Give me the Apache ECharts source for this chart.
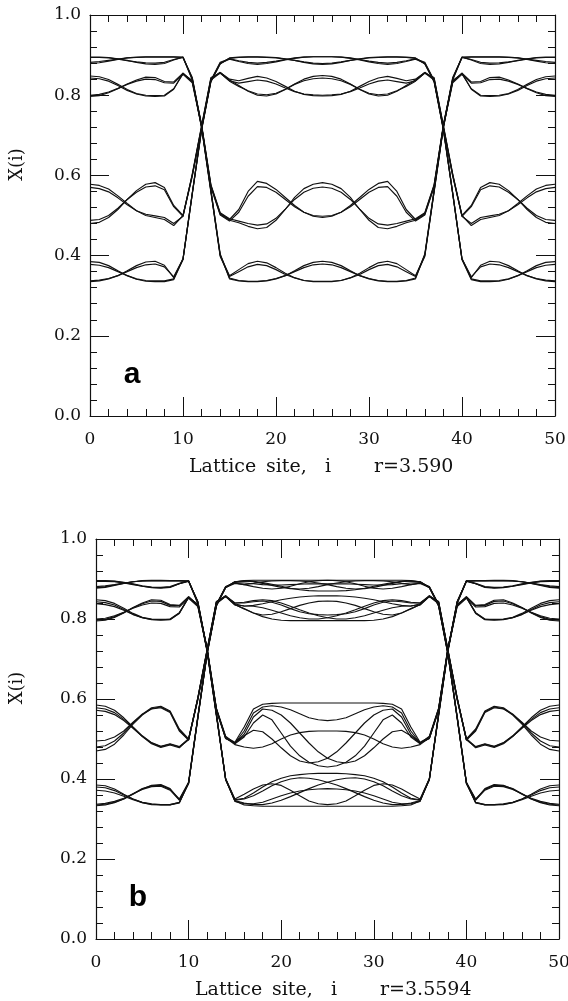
<!DOCTYPE html>
<html>
<head>
<meta charset="utf-8">
<script src="https://cdn.jsdelivr.net/npm/echarts@6/dist/echarts.min.js"></script>
<style>
  html, body { margin: 0; padding: 0; background: #fff; }
  #chart { width: 568px; height: 1001px; }
</style>
</head>
<body>
<div id="chart"></div>
<script>
// Snapshots X(i) of the coupled logistic lattice, i = 0..50.
// Each array: left domain (0-10) | wall (11-13) | centre domain (14-36) | wall (37-39) | right domain (40-50)

// ---- panel a, r = 3.590 ----
const a01 = [.895,.895,.894,.891,.887,.882,.878,.877,.879,.888,.895, .840,.720,.560,
  .400,.350,.365,.380,.386,.382,.370,.356,.345,.338,.335,.335, .335,.338,.345,.356,.370,.382,.386,.380,.365,.350,.400,
  .560,.720,.840, .895,.888,.879,.877,.878,.882,.887,.891,.894,.895,.895];
const a02 = [.879,.881,.885,.889,.893,.895,.896,.896,.896,.896,.895, .842,.722,.562,
  .402,.342,.337,.335,.335,.337,.342,.350,.362,.375,.383,.386, .383,.375,.362,.350,.342,.337,.335,.335,.337,.342,.402,
  .562,.722,.842, .895,.896,.896,.896,.896,.895,.893,.889,.885,.881,.879];
const a03 = [.894,.894,.893,.890,.886,.883,.881,.880,.882,.889,.894, .838,.718,.558,
  .398,.348,.360,.372,.378,.375,.365,.353,.344,.338,.336,.336, .336,.338,.344,.353,.365,.375,.378,.372,.360,.348,.398,
  .558,.718,.838, .894,.889,.882,.880,.881,.883,.886,.890,.893,.894,.894];
const a04 = [.882,.884,.887,.890,.893,.894,.895,.895,.895,.895,.894, .844,.724,.564,
  .404,.344,.338,.336,.336,.338,.343,.350,.360,.370,.377,.379, .377,.370,.360,.350,.343,.338,.336,.336,.338,.344,.404,
  .564,.724,.844, .894,.895,.895,.895,.895,.894,.893,.890,.887,.884,.882];
const a05 = [.385,.383,.375,.362,.350,.341,.336,.335,.335,.340,.390, .555,.715,.835,
  .880,.890,.884,.879,.877,.879,.883,.888,.892,.895,.896,.896, .896,.895,.892,.888,.883,.879,.877,.879,.884,.890,.880,
  .835,.715,.555, .390,.340,.335,.335,.336,.341,.350,.362,.375,.383,.385];
const a06 = [.335,.337,.342,.350,.362,.375,.384,.386,.376,.345,.390, .553,.713,.833,
  .878,.893,.895,.896,.896,.895,.894,.891,.887,.882,.878,.877, .878,.882,.887,.891,.894,.895,.896,.896,.895,.893,.878,
  .833,.713,.553, .390,.345,.376,.386,.384,.375,.362,.350,.342,.337,.335];
const a07 = [.378,.376,.370,.360,.350,.342,.338,.337,.337,.342,.392, .557,.717,.837,
  .882,.891,.886,.882,.880,.882,.885,.889,.893,.895,.896,.896, .896,.895,.893,.889,.885,.882,.880,.882,.886,.891,.882,
  .837,.717,.557, .392,.342,.337,.337,.338,.342,.350,.360,.370,.376,.378];
const a08 = [.337,.339,.343,.350,.360,.370,.377,.379,.372,.347,.392, .556,.716,.836,
  .879,.892,.894,.895,.895,.894,.893,.890,.887,.883,.880,.879, .880,.883,.887,.890,.893,.894,.895,.895,.894,.892,.879,
  .836,.716,.556, .392,.347,.372,.379,.377,.370,.360,.350,.343,.339,.337];
const a09 = [.843,.841,.835,.824,.812,.803,.798,.797,.798,.815,.855, .835,.725,.575,
  .505,.490,.515,.560,.585,.580,.565,.545,.525,.508,.498,.495, .498,.508,.525,.545,.565,.580,.585,.560,.515,.490,.505,
  .575,.725,.835, .855,.815,.798,.797,.798,.803,.812,.824,.835,.841,.843];
const a10 = [.797,.799,.806,.816,.828,.838,.845,.844,.834,.833,.855, .833,.723,.573,
  .503,.488,.482,.473,.467,.470,.488,.515,.545,.567,.578,.582, .578,.567,.545,.515,.488,.470,.467,.473,.482,.488,.503,
  .573,.723,.833, .855,.833,.834,.844,.845,.838,.828,.816,.806,.799,.797];
const a11 = [.848,.846,.839,.827,.814,.804,.800,.799,.800,.816,.853, .837,.727,.577,
  .507,.492,.486,.480,.476,.479,.493,.516,.540,.558,.568,.571, .568,.558,.540,.516,.493,.479,.476,.480,.486,.492,.507,
  .577,.727,.837, .853,.816,.800,.799,.800,.804,.814,.827,.839,.846,.848];
const a12 = [.800,.802,.808,.817,.827,.835,.840,.839,.831,.830,.852, .831,.721,.571,
  .501,.486,.508,.548,.572,.570,.558,.540,.522,.508,.500,.498, .500,.508,.522,.540,.558,.570,.572,.548,.508,.486,.501,
  .571,.721,.831, .852,.830,.831,.839,.840,.835,.827,.817,.808,.802,.800];
const a13 = [.578,.575,.566,.549,.530,.512,.500,.495,.490,.475,.500, .600,.720,.840,
  .857,.838,.824,.810,.800,.798,.803,.814,.828,.840,.847,.849, .847,.840,.828,.814,.803,.798,.800,.810,.824,.838,.857,
  .840,.720,.600, .500,.475,.490,.495,.500,.512,.530,.549,.566,.575,.578];
const a14 = [.480,.483,.495,.515,.540,.562,.578,.582,.570,.525,.500, .602,.722,.842,
  .857,.840,.836,.842,.847,.843,.834,.822,.810,.802,.799,.798, .799,.802,.810,.822,.834,.843,.847,.842,.836,.840,.857,
  .842,.722,.602, .500,.525,.570,.582,.578,.562,.540,.515,.495,.483,.480];
const a15 = [.570,.567,.559,.544,.527,.512,.503,.499,.495,.480,.498, .598,.718,.838,
  .855,.836,.830,.834,.838,.835,.828,.818,.809,.803,.801,.800, .801,.803,.809,.818,.828,.835,.838,.834,.830,.836,.855,
  .838,.718,.598, .498,.480,.495,.499,.503,.512,.527,.544,.559,.567,.570];
const a16 = [.488,.490,.500,.518,.540,.558,.571,.574,.564,.522,.498, .604,.724,.844,
  .855,.835,.822,.811,.803,.801,.805,.815,.827,.836,.841,.843, .841,.836,.827,.815,.805,.801,.803,.811,.822,.835,.855,
  .844,.724,.604, .498,.522,.564,.574,.571,.558,.540,.518,.500,.490,.488];

// ---- panel b, r = 3.5594 ----
const b01 = [.895,.895,.894,.891,.887,.882,.878,.877,.879,.888,.895, .840,.720,.560,
  .398,.345,.335,.333, .332,.332,.332,.332,.332, .332,.332,.332,.332,.332, .332,.332,.332,.332,.332, .333,.335,.345,.398,
  .560,.720,.840, .895,.888,.879,.877,.878,.882,.887,.891,.894,.895,.895];
const b02 = [.879,.881,.885,.889,.893,.895,.896,.896,.896,.896,.895, .842,.722,.562,
  .400,.348,.352,.365,.380,.393,.402,.408,.411,.413,.414,.414, .414,.413,.411,.408,.402,.393,.380,.365,.352,.348,.400,
  .562,.722,.842, .895,.896,.896,.896,.896,.895,.893,.889,.885,.881,.879];
const b03 = [.894,.894,.893,.890,.886,.882,.879,.878,.880,.888,.894, .838,.718,.558,
  .399,.346,.340,.336,.336,.340,.347,.356,.366,.376,.385,.392, .398,.402,.403,.400,.393,.383,.370,.358,.350,.347,.399,
  .558,.718,.838, .894,.888,.880,.878,.879,.882,.886,.890,.893,.894,.894];
const b04 = [.881,.883,.886,.890,.893,.895,.895,.895,.895,.895,.894, .844,.724,.564,
  .399,.347,.350,.358,.370,.383,.393,.400,.403,.402,.398,.392, .385,.376,.366,.356,.347,.340,.336,.336,.340,.346,.399,
  .564,.724,.844, .894,.895,.895,.895,.895,.895,.893,.890,.886,.883,.881];
const b05 = [.896,.896,.895,.892,.888,.883,.880,.879,.881,.889,.896, .841,.721,.561,
  .401,.350,.362,.375,.385,.388,.384,.372,.358,.345,.338,.336, .338,.345,.358,.372,.384,.388,.385,.375,.362,.350,.401,
  .561,.721,.841, .896,.889,.881,.879,.880,.883,.888,.892,.895,.896,.896];
const b06 = [.877,.879,.884,.889,.893,.896,.897,.897,.896,.896,.895, .843,.723,.563,
  .401,.344,.338,.338,.342,.350,.358,.365,.370,.373,.375,.376, .375,.373,.370,.365,.358,.350,.342,.338,.338,.344,.401,
  .563,.723,.843, .895,.896,.896,.897,.897,.896,.893,.889,.884,.879,.877];
const b07 = [.385,.383,.375,.362,.350,.341,.336,.335,.335,.340,.390, .555,.715,.835,
  .880,.893,.896, .897,.897,.897,.897,.897,.897,.897,.897,.897, .897,.897,.897,.897,.897,.897,.897,.897, .896,.893,.880,
  .835,.715,.555, .390,.340,.335,.335,.336,.341,.350,.362,.375,.383,.385];
const b08 = [.335,.337,.342,.350,.362,.375,.384,.386,.376,.348,.390, .553,.713,.833,
  .878,.893,.895,.894,.891,.887,.882,.877,.873,.871,.870,.870, .870,.871,.873,.877,.882,.887,.891,.894,.895,.893,.878,
  .833,.713,.553, .390,.348,.376,.386,.384,.375,.362,.350,.342,.337,.335];
const b09 = [.380,.378,.371,.360,.350,.342,.338,.336,.336,.342,.392, .557,.717,.837,
  .881,.890,.886,.881,.877,.875,.877,.882,.888,.893,.896,.897, .896,.893,.888,.882,.877,.875,.877,.881,.886,.890,.881,
  .837,.717,.557, .392,.342,.336,.336,.338,.342,.350,.360,.371,.378,.380];
const b10 = [.333,.335,.341,.350,.363,.376,.383,.384,.374,.350,.392, .556,.716,.836,
  .879,.893,.895,.893,.889,.884,.879,.876,.875,.877,.881,.886, .890,.893,.895,.896,.896,.895,.893,.889,.886,.889,.879,
  .836,.716,.556, .392,.350,.374,.384,.383,.376,.363,.350,.341,.335,.333];
const b11 = [.372,.370,.365,.357,.348,.341,.337,.336,.336,.341,.389, .554,.714,.834,
  .879,.889,.886,.889,.893,.895,.896,.896,.895,.893,.890,.886, .881,.877,.875,.876,.879,.884,.889,.893,.895,.893,.879,
  .834,.714,.554, .389,.341,.336,.336,.337,.341,.348,.357,.365,.370,.372];
const b12 = [.337,.339,.344,.352,.363,.374,.381,.382,.372,.347,.389, .552,.712,.832,
  .880,.891,.890,.888,.886,.885,.885,.886,.887,.888,.888,.888, .888,.888,.887,.886,.885,.885,.886,.888,.890,.891,.880,
  .832,.712,.552, .389,.347,.372,.382,.381,.374,.363,.352,.344,.339,.337];
const b13 = [.843,.841,.835,.824,.812,.803,.798,.797,.798,.815,.855, .835,.725,.575,
  .505,.492,.530,.575,.587,.589, .590,.590,.590,.590,.590,.590, .590,.590,.590,.590,.590, .589,.587,.575,.530,.492,.505,
  .575,.725,.835, .855,.815,.798,.797,.798,.803,.812,.824,.835,.841,.843];
const b14 = [.797,.799,.806,.816,.828,.838,.845,.844,.834,.833,.855, .833,.723,.573,
  .503,.490,.520,.565,.580,.583,.580,.573,.563,.553,.548,.546, .548,.553,.563,.573,.580,.583,.580,.565,.520,.490,.503,
  .573,.723,.833, .855,.833,.834,.844,.845,.838,.828,.816,.806,.799,.797];
const b15 = [.848,.846,.839,.827,.814,.804,.800,.799,.800,.816,.853, .837,.727,.577,
  .507,.488,.505,.540,.560,.548,.515,.482,.458,.442,.433,.430, .433,.442,.458,.482,.515,.548,.560,.540,.505,.488,.507,
  .577,.727,.837, .853,.816,.800,.799,.800,.804,.814,.827,.839,.846,.848];
const b16 = [.800,.802,.808,.817,.827,.835,.840,.839,.831,.830,.852, .831,.721,.571,
  .501,.490,.512,.555,.575,.572,.560,.540,.515,.490,.468,.452, .443,.440,.445,.458,.478,.500,.518,.522,.508,.490,.501,
  .571,.721,.831, .852,.830,.831,.839,.840,.835,.827,.817,.808,.802,.800];
const b17 = [.838,.836,.831,.822,.811,.803,.799,.798,.799,.814,.854, .836,.726,.576,
  .501,.490,.508,.522,.518,.500,.478,.458,.445,.440,.443,.452, .468,.490,.515,.540,.560,.572,.575,.555,.512,.490,.501,
  .576,.726,.836, .854,.814,.799,.798,.799,.803,.811,.822,.831,.836,.838];
const b18 = [.795,.797,.804,.815,.829,.840,.848,.847,.836,.834,.856, .834,.724,.574,
  .503,.486,.480,.477,.480,.488,.500,.510,.516,.519,.520,.520, .520,.519,.516,.510,.500,.488,.480,.477,.480,.486,.503,
  .574,.724,.834, .856,.834,.836,.847,.848,.840,.829,.815,.804,.797,.795];
const b19 = [.578,.575,.566,.549,.528,.506,.488,.479,.485,.478,.500, .600,.720,.840,
  .857,.838,.832,.834,.838,.843,.848,.852,.855,.857,.858,.858, .858,.857,.855,.852,.848,.843,.838,.834,.832,.838,.857,
  .840,.720,.600, .500,.478,.485,.479,.488,.506,.528,.549,.566,.575,.578];
const b20 = [.480,.483,.495,.515,.540,.562,.578,.582,.570,.525,.500, .602,.722,.842,
  .857,.836,.825,.815,.806,.800,.797, .796,.796,.796,.796,.796, .796,.796,.796,.796, .797,.800,.806,.815,.825,.836,.857,
  .842,.722,.602, .500,.525,.570,.582,.578,.562,.540,.515,.495,.483,.480];
const b21 = [.572,.569,.561,.546,.527,.507,.490,.481,.487,.480,.498, .598,.718,.838,
  .856,.840,.842,.846,.848,.846,.840,.832,.823,.815,.808,.803, .800,.800,.803,.808,.815,.822,.828,.832,.833,.835,.856,
  .838,.718,.598, .498,.480,.487,.481,.490,.507,.527,.546,.561,.569,.572];
const b22 = [.470,.474,.487,.510,.537,.560,.576,.580,.568,.522,.498, .604,.724,.844,
  .856,.835,.833,.832,.828,.822,.815,.808,.803,.800,.800,.803, .808,.815,.823,.832,.840,.846,.848,.846,.842,.840,.856,
  .844,.724,.604, .498,.522,.568,.580,.576,.560,.537,.510,.487,.474,.470];
const b23 = [.585,.582,.572,.553,.530,.508,.491,.482,.488,.481,.501, .601,.721,.841,
  .858,.836,.826,.815,.810,.812,.818,.826,.834,.840,.844,.845, .844,.840,.834,.826,.818,.812,.810,.815,.826,.836,.858,
  .841,.721,.601, .501,.481,.488,.482,.491,.508,.530,.553,.572,.582,.585];
const b24 = [.495,.497,.505,.520,.542,.562,.575,.578,.566,.520,.497, .603,.723,.843,
  .858,.840,.840,.843,.845,.842,.835,.826,.818,.813,.811,.810, .811,.813,.818,.826,.835,.842,.845,.843,.840,.840,.858,
  .843,.723,.603, .497,.520,.566,.578,.575,.562,.542,.520,.505,.497,.495];

const panelA = [a01,a02,a03,a04,a05,a06,a07,a08,a09,a10,a11,a12,a13,a14,a15,a16];
const panelB = [b01,b02,b03,b04,b05,b06,b07,b08,b09,b10,b11,b12,b13,b14,b15,b16,b17,b18,b19,b20,b21,b22,b23,b24];

const xTicks = { min: 0, max: 50, interval: 10 };
const yTicks = { min: 0, max: 1, interval: 0.2 };
const xTitleWords = ['Lattice', 'site,', 'i'];
const rLabels = ['r=3.590', 'r=3.5594'];
const panelTags = ['a', 'b'];

const SERIF = 'DejaVu Serif';
const INK = '#111';
const TITLE_FONT = '19px "' + SERIF + '"';

function xAxis(grid, pos) {
  const main = pos === 'bottom';
  return {
    type: 'value', gridIndex: grid, position: pos,
    min: xTicks.min, max: xTicks.max, interval: xTicks.interval,
    axisLine: { show: true, onZero: false, lineStyle: { color: INK, width: 1.2 } },
    axisTick: { show: true, inside: true, length: 19, lineStyle: { color: INK, width: 1 } },
    minorTick: { show: true, splitNumber: 5, length: 7, lineStyle: { color: INK, width: 1 } },
    splitLine: { show: false }, minorSplitLine: { show: false },
    axisLabel: { show: main, margin: 15, fontFamily: SERIF, fontSize: 17, color: INK }
  };
}
function yAxis(grid, pos) {
  const main = pos === 'left';
  return {
    type: 'value', gridIndex: grid, position: pos,
    min: yTicks.min, max: yTicks.max, interval: yTicks.interval,
    axisLine: { show: true, onZero: false, lineStyle: { color: INK, width: 1.2 } },
    axisTick: { show: true, inside: true, length: 19, lineStyle: { color: INK, width: 1 } },
    minorTick: { show: true, splitNumber: 5, length: 7, lineStyle: { color: INK, width: 1 } },
    splitLine: { show: false }, minorSplitLine: { show: false },
    axisLabel: { show: main, margin: 9, fontFamily: SERIF, fontSize: 17, color: INK,
                 formatter: v => v.toFixed(1) }
  };
}

function curves(list, axisIdx) {
  return list.map(vals => ({
    type: 'line', xAxisIndex: axisIdx, yAxisIndex: axisIdx,
    data: vals.map((v, i) => [i, v]),
    symbol: 'none', showSymbol: false, silent: true, clip: true,
    lineStyle: { color: INK, width: 1.15 }
  }));
}

const grids = [
  { left: 90, top: 15, width: 465, height: 401 },
  { left: 96, top: 539, width: 463, height: 400 }
];

function word(x, y, text) {
  return { type: 'text', x: x, y: y,
           style: { text: text, font: TITLE_FONT, fill: INK, align: 'left', verticalAlign: 'middle' } };
}

// x-axis titles are set word by word to keep the wide spacing of the original typesetting
const wordOffsets = [99, 176, 235];
const graphic = [];
grids.forEach((g, k) => {
  const bottom = g.top + g.height;
  xTitleWords.forEach((w, j) => graphic.push(word(g.left + wordOffsets[j], bottom + 51, w)));
  graphic.push(word(g.left + 284, bottom + 51, rLabels[k]));
  graphic.push({
    type: 'text', x: 17, y: g.top + g.height / 2 - 51, rotation: Math.PI / 2,
    style: { text: 'X(i)', font: '18px "' + SERIF + '"', fill: INK, align: 'center', verticalAlign: 'middle' }
  });
  graphic.push({
    type: 'text', x: g.left + 42, y: bottom - 41,
    style: { text: panelTags[k], font: 'bold 30px "Liberation Sans"', fill: '#000', align: 'center', verticalAlign: 'middle' }
  });
});

const chart = echarts.init(document.getElementById('chart'), null, { renderer: 'canvas' });
chart.setOption({
  animation: false,
  backgroundColor: '#fff',
  grid: grids.map(g => Object.assign({ containLabel: false, outerBoundsMode: 'none' }, g)),
  xAxis: [xAxis(0, 'bottom'), xAxis(0, 'top'), xAxis(1, 'bottom'), xAxis(1, 'top')],
  yAxis: [yAxis(0, 'left'), yAxis(0, 'right'), yAxis(1, 'left'), yAxis(1, 'right')],
  series: curves(panelA, 0).concat(curves(panelB, 2)),
  graphic: graphic
});
</script>
</body>
</html>
